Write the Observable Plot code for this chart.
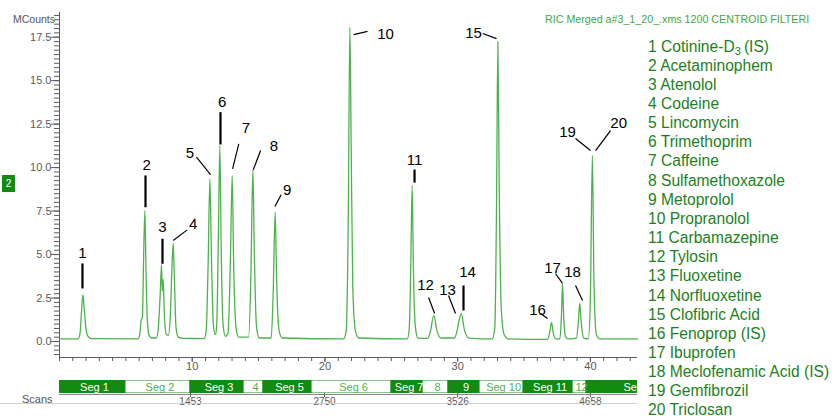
<!DOCTYPE html>
<html><head><meta charset="utf-8">
<script src="https://cdn.jsdelivr.net/npm/d3@7"></script>
<script src="https://cdn.jsdelivr.net/npm/@observablehq/plot@0.6"></script>
<style>
body{margin:0;background:#fff;font-family:"Liberation Sans",Arial,sans-serif;}
#wrap{position:relative;width:835px;height:416px;overflow:hidden;background:#fff;}
.abs{position:absolute;white-space:nowrap;}
#legend{position:absolute;left:648px;top:36.5px;font-size:15.6px;line-height:19.16px;color:#1d7f1d;}
#legend div{white-space:nowrap;height:19.16px;}
#legend sub{font-size:11px;line-height:0;vertical-align:-3px;}
</style></head><body><div id="wrap"></div>
<script>
// ---- chromatogram trace (retention time, min ; intensity, MCounts) ----
const traceTime = [0,1.4,1.55,1.65,1.76,1.88,2.0,2.15,2.4,5.9,6.05,6.15,6.25,6.33,6.43,6.52,6.62,6.75,6.95,7.3,7.45,7.58,7.69,7.74,7.81,7.9,8.05,8.2,8.35,8.47,8.57,8.66,8.78,8.95,9.3,10.9,11.05,11.2,11.33,11.45,11.6,11.75,11.85,11.97,12.08,12.18,12.32,12.5,12.7,12.88,13.01,13.12,13.3,13.5,14.25,14.42,14.57,14.68,14.85,15.05,15.95,16.1,16.25,16.36,16.55,16.8,21.4,21.6,21.75,21.88,21.98,22.1,22.3,22.55,26.2,26.35,26.47,26.57,26.67,26.82,27.0,27.75,27.95,28.2,28.45,28.75,29.75,29.95,30.1,30.28,30.5,30.85,32.6,32.8,32.93,33.03,33.13,33.28,33.5,33.8,36.75,36.93,37.07,37.2,37.4,37.7,37.82,37.9,37.98,38.12,38.3,38.95,39.1,39.2,39.3,39.5,39.85,40.0,40.15,40.27,40.45,40.7,43.55];
const traceSignal = [0.15,0.15,0.5,1.6,2.69,1.7,0.7,0.3,0.17,0.15,0.4,1.2,1.4,4.5,7.53,4.0,1.2,0.35,0.2,0.2,0.8,2.6,4.42,2.9,3.57,1.6,0.4,0.35,1.5,4.2,5.65,3.5,0.8,0.25,0.18,0.17,0.6,4.5,9.35,4.8,0.9,0.4,1.0,6.0,11.27,5.5,1.0,0.3,0.5,4.8,9.55,4.5,0.8,0.25,0.25,3.8,9.87,5.0,0.8,0.2,0.2,2.8,7.44,3.5,0.6,0.2,0.15,0.6,6.5,18.07,11.0,3.0,0.6,0.2,0.15,0.7,4.5,8.97,4.0,0.8,0.2,0.18,0.6,1.5,0.6,0.2,0.2,0.6,1.2,1.6,0.7,0.2,0.15,0.8,8.0,17.25,9.0,2.0,0.4,0.15,0.12,0.5,1.1,0.5,0.15,0.15,1.5,3.33,1.6,0.3,0.15,0.2,1.2,2.2,1.2,0.2,0.15,2.5,10.7,3.5,0.4,0.15,0.15];

// ---- peak annotations ----
const peakNums      = [1,2,3,4,5,6,7,8,9,10,11,12,13,14,15,16,17,18,19,20];
const labelTime     = [1.73,6.56,7.76,10.07,9.82,12.26,14.04,16.15,17.16,24.57,26.75,27.58,29.24,30.75,31.2,36.02,37.15,38.66,38.28,42.13];
const labelSignal   = [5.06,10.12,6.57,6.73,10.83,13.76,12.27,11.23,8.72,17.65,10.41,3.22,2.93,3.97,17.71,1.78,4.2,3.97,12.02,12.54];
const leaderTime1   = [1.73,6.48,7.76,9.62,10.32,12.13,13.51,15.15,16.7,22.16,26.75,27.81,29.31,30.44,31.88,36.25,37.37,38.88,38.88,41.52];
const leaderSignal1 = [4.49,9.55,5.91,6.42,10.6,13.19,11.37,10.98,8.44,17.65,9.89,2.53,2.65,3.22,17.71,1.61,3.91,3.22,11.67,12.13];
const leaderTime2   = [1.73,6.48,7.76,8.57,11.38,12.13,13.04,14.6,16.23,23.21,26.75,28.26,29.84,30.44,32.93,36.77,37.9,39.41,40.01,40.39];
const leaderSignal2 = [3.05,7.72,4.47,5.81,9.59,11.33,9.93,9.87,7.76,17.83,9.14,1.61,1.61,1.78,17.42,1.32,3.34,2.36,10.98,10.98];

// ---- compound legend ----
const compoundNames = ["Cotinine-D<sub>3</sub>&thinsp;(IS)","Acetaminophem","Atenolol","Codeine","Lincomycin","Trimethoprim","Caffeine","Sulfamethoxazole","Metoprolol","Propranolol","Carbamazepine","Tylosin","Fluoxetine","Norfluoxetine","Clofibric Acid","Fenoprop (IS)","Ibuprofen","Meclofenamic Acid (IS)","Gemfibrozil","Triclosan"];

// ---- axes ----
const yMajorTicks = [0,2.5,5,7.5,10,12.5,15,17.5];
const yMinorTicks = d3.range(-3,76).map(k => k*0.25);
const xMajorTicks = [10,20,30,40];
const xMinorTicks = d3.range(0,44);

// ---- acquisition segments & scan numbers ----
const segmentNames  = ["Seg 1","Seg 2","Seg 3","4","Seg 5","Seg 6","Seg 7","8","9","Seg 10","Seg 11","12","Seg 13"];
const segmentBounds = [0,4.97,9.87,13.87,15.37,18.99,25.02,27.36,29.31,31.65,34.97,38.66,39.71,47.6];
const scanTimes  = [9.87,19.97,30.0,40.0];
const scanLabels = ["1453","2750","3526","4658"];

const FONT = '"Liberation Sans", Arial, sans-serif';
const GREEN = "#138b13";
const TRACE = "#4db24d";
const AX = "#5a5a5a";
const X_DOMAIN = [0, 43.55];
const Y_DOMAIN = [-0.92, 18.92];

const wrap = document.getElementById("wrap");
const trace = traceTime.map((t, i) => ({t, v: traceSignal[i]}));
const labels = peakNums.map((n, i) => ({n, t: labelTime[i], v: labelSignal[i],
  t1: leaderTime1[i], v1: leaderSignal1[i], t2: leaderTime2[i], v2: leaderSignal2[i]}));

const main = Plot.plot({
  width: 640, height: 376,
  marginLeft: 59, marginRight: 3, marginTop: 12, marginBottom: 19,
  style: {fontFamily: FONT, background: "transparent", overflow: "visible"},
  x: {domain: X_DOMAIN},
  y: {domain: Y_DOMAIN},
  marks: [
    Plot.axisY(yMinorTicks, {tickSize: 5, tickFormat: () => "", color: AX, label: null}),
    Plot.axisY(yMajorTicks, {tickSize: 8, tickPadding: 0, tickFormat: d => d.toFixed(1), fontSize: 11, color: AX, label: null}),
    Plot.axisX(xMinorTicks, {tickSize: 4, tickFormat: () => "", color: AX, label: null}),
    Plot.axisX(xMajorTicks, {tickSize: 5, tickPadding: 0, fontSize: 11, color: AX, label: null}),
    Plot.ruleX([X_DOMAIN[0]], {stroke: AX}),
    Plot.ruleY([Y_DOMAIN[0]], {stroke: AX}),
    Plot.line(trace, {x: "t", y: "v", stroke: TRACE, strokeWidth: 1.3, curve: "monotone-x"}),
    Plot.link(labels, {filter: d => d.t1 === d.t2, x1: "t1", y1: "v1", x2: "t2", y2: "v2", stroke: "black", strokeWidth: 2.2}),
    Plot.link(labels, {filter: d => d.t1 !== d.t2, x1: "t1", y1: "v1", x2: "t2", y2: "v2", stroke: "black", strokeWidth: 1.2}),
    Plot.text(labels, {x: "t", y: "v", text: d => String(d.n), fontSize: 15, fill: "black"})
  ]
});
main.style.position = "absolute"; main.style.left = "0px"; main.style.top = "0px";
wrap.appendChild(main);

const segs = segmentNames.map((s, i) => ({s, i, x1: segmentBounds[i], x2: segmentBounds[i + 1]}));
const scanMap = new Map(scanTimes.map((t, i) => [t, scanLabels[i]]));
const segPlot = Plot.plot({
  width: 640, height: 40,
  marginLeft: 59, marginRight: 3, marginTop: 4, marginBottom: 23,
  style: {fontFamily: FONT, background: "transparent", overflow: "visible"},
  x: {domain: X_DOMAIN},
  y: {domain: [0, 1], axis: null},
  marks: [
    Plot.rect(segs, {x1: "x1", x2: "x2", y1: 0, y2: 1, fill: d => d.i % 2 === 0 ? GREEN : "white", stroke: GREEN, clip: true}),
    Plot.text(segs, {x: d => (d.x1 + d.x2) / 2, y: 0.5, text: "s", dx: 2, fontSize: 11, fill: d => d.i % 2 === 0 ? "white" : "#4fb04f", clip: true}),
    Plot.ruleY([0], {stroke: "#888", dy: 1}),
    Plot.axisX(scanTimes, {tickSize: 4, tickPadding: 0, tickFormat: d => scanMap.get(d), fontSize: 10, color: AX, label: null})
  ]
});
segPlot.style.position = "absolute"; segPlot.style.left = "0px"; segPlot.style.top = "376px";
wrap.appendChild(segPlot);

// ---- texts around the chart ----
function addDiv(html, css) {
  const d = document.createElement("div");
  d.className = "abs"; d.innerHTML = html; d.style.cssText += css;
  wrap.appendChild(d); return d;
}
addDiv("MCounts", "right:780px;top:13px;font-size:10.5px;color:#555;");
addDiv("Scans", "left:22px;top:393px;font-size:11px;color:#555;");
addDiv("2", "left:2px;top:175px;width:13px;height:17px;line-height:17px;text-align:center;background:" + GREEN + ";color:white;font-size:10px;");
addDiv("RIC Merged a#3_1_20_.xms 1200 CENTROID FILTERI", "left:545px;top:13px;font-size:10.7px;color:#45a545;");
addDiv("", "left:0px;top:403px;width:637px;height:1px;background:#d0d0d0;");

const legend = document.createElement("div");
legend.id = "legend";
compoundNames.forEach((name, i) => {
  const d = document.createElement("div");
  d.innerHTML = (i + 1) + " " + name;
  legend.appendChild(d);
});
wrap.appendChild(legend);
</script></body></html>
